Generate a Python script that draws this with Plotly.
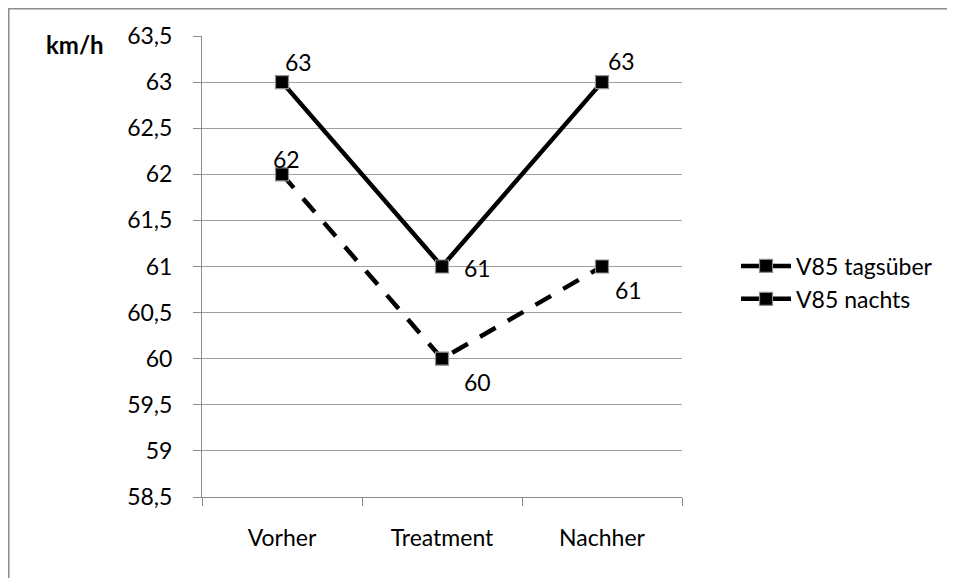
import plotly.graph_objects as go

categories = ["Vorher", "Treatment", "Nachher"]
tagsueber = [62, 60, 61]
nachts = [63, 61, 63]
y_ticks = [58.5, 59, 59.5, 60, 60.5, 61, 61.5, 62, 62.5, 63, 63.5]
y_tick_text = [str(v).replace(".", ",") if v % 1 else str(int(v)) for v in y_ticks]

FONT = "Lato"
FS = 23
marker = dict(symbol="square", size=13, color="black", line=dict(color="#8c8c8c", width=1.2))

fig = go.Figure()
fig.add_trace(go.Scatter(x=categories, y=tagsueber, mode="lines+markers", name="V85 tagsüber",
                         line=dict(color="black", width=4.5, dash="18px,14px"), marker=marker))
fig.add_trace(go.Scatter(x=categories, y=nachts, mode="lines+markers", name="V85 nachts",
                         line=dict(color="black", width=4.5), marker=marker))

# data labels (offsets in px)
lab_off_t = [(4, 15), (35, -23), (26, -23)]
lab_off_n = [(16, 20), (35, -1), (19, 21)]
for vals, offs in ((tagsueber, lab_off_t), (nachts, lab_off_n)):
    for c, v, (dx, dy) in zip(categories, vals, offs):
        fig.add_annotation(x=c, y=v, text=str(v), showarrow=False, xshift=dx, yshift=dy,
                           font=dict(family=FONT, size=FS, color="black"))

# figure is 947x570, placed at the 8px body margin inside the 955x578 window
W, H = 947, 570
PW, PH = 480, 461
L, T = 194, 28
fig.add_annotation(x=(67 - L) / PW, y=63.5, xref="paper", yref="y", text="<b>km/h</b>", showarrow=False,
                   xanchor="center", yanchor="middle", yshift=-8, font=dict(family=FONT, size=24, color="black"))

# outer chart border
fig.add_shape(type="rect", xref="paper", yref="paper",
              x0=(0.75 - L) / PW, x1=(1000 - L) / PW,
              y0=-(200) / PH, y1=1 + (T - 0.75) / PH,
              line=dict(color="#8c8c8c", width=1.5), fillcolor="rgba(0,0,0,0)", layer="below")

fig.update_layout(
    width=W, height=H,
    margin=dict(l=L, r=W - L - PW, t=T, b=H - T - PH, autoexpand=False),
    paper_bgcolor="white", plot_bgcolor="white",
    font=dict(family=FONT, size=FS, color="black"),
    showlegend=True,
    legend=dict(x=(736 - 202) / PW, y=(497 - 282.5) / PH, xanchor="left", yanchor="middle",
                font=dict(family=FONT, size=FS), tracegroupgap=0, itemwidth=50,
                bgcolor="rgba(0,0,0,0)", borderwidth=0),
    xaxis=dict(type="category", range=[-0.5, 2.5], showgrid=False, showline=True, linecolor="#8c8c8c",
               linewidth=1, ticks="outside", ticklen=8, tickcolor="#8c8c8c", tickson="boundaries",
               tickfont=dict(family=FONT, size=FS), zeroline=False, ticklabelstandoff=20,
               automargin=False),
    yaxis=dict(range=[58.5, 63.5], tickvals=y_ticks, ticktext=y_tick_text, showgrid=True,
               gridcolor="#a0a0a0", gridwidth=1, showline=True, linecolor="#8c8c8c", linewidth=1,
               ticks="outside", ticklen=8, tickcolor="#8c8c8c", tickfont=dict(family=FONT, size=FS),
               zeroline=False, ticklabelstandoff=16, automargin=False),
)

fig.write_html("out.html")
